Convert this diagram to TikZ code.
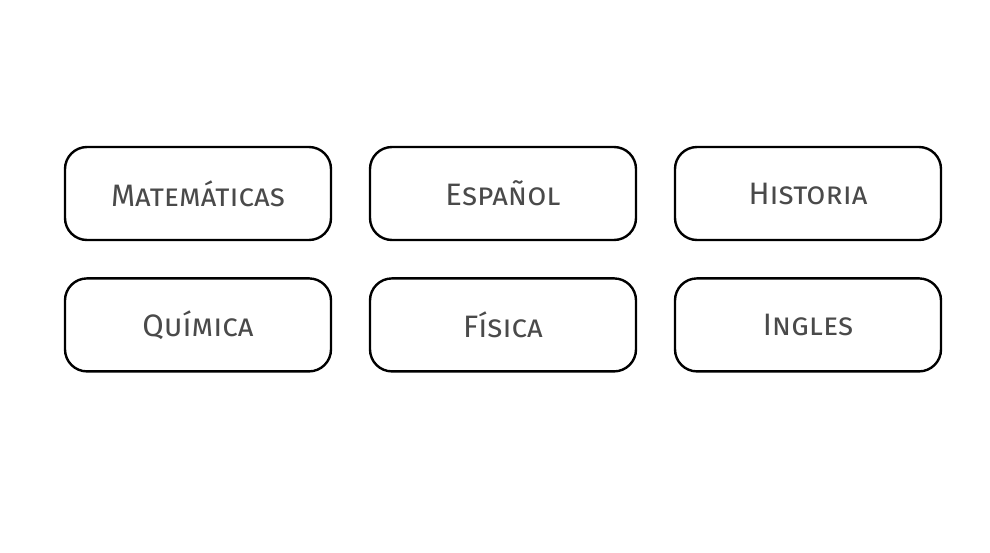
\documentclass[tikz,border=0pt]{standalone}
\usepackage{fontspec}
\setmainfont{Fira Sans}
\usepackage{tikz}
\usetikzlibrary{positioning}
\definecolor{inkgray}{HTML}{4A4A4A}

\begin{document}
\begin{tikzpicture}[
  x=0.5pt,y=-0.5pt,
  node distance=18pt and 18.3pt,
  subject/.style={draw=black,line width=1.2pt,rounded corners=11pt,fill=white,
                  minimum width=133pt,minimum height=46.5pt,inner sep=0pt,
                  text=inkgray,font=\fontsize{15.5}{18}\selectfont\scshape}
]
\useasboundingbox (0,0) rectangle (990,552);
\node[subject] (mate) at (198,193.5) {Matemáticas};
\node[subject,right=of mate] (espa) {Español};
\node[subject,right=of espa] (hist) {Historia};
\node[subject,below=of mate] (quim) {Química};
\node[subject,right=of quim] (fisi) {Física};
\node[subject,right=of fisi] (ingl) {Ingles};
\end{tikzpicture}
\end{document}
